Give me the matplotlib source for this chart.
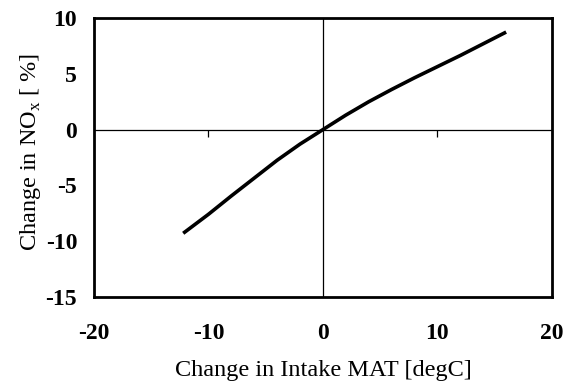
import matplotlib
matplotlib.use("Agg")
import matplotlib.pyplot as plt
from matplotlib.lines import TICKDOWN

plt.rcParams['font.family'] = ['Liberation Serif', 'DejaVu Serif']
plt.rcParams['mathtext.fontset'] = 'custom'
plt.rcParams['mathtext.rm'] = 'Liberation Serif'

# data
mat_change = [-12.2, -10, -8, -6, -4, -2, 0, 2, 4, 6, 8, 10, 12, 14, 16]
nox_change = [-9.3, -7.6, -5.95, -4.35, -2.75, -1.3, 0, 1.3, 2.5, 3.6, 4.65, 5.65, 6.65, 7.7, 8.75]
x_ticks = [-20, -10, 0, 10, 20]
y_ticks = [-15, -10, -5, 0, 5, 10]
minor_x_marks = [-10, 10]

fig = plt.figure(figsize=(5.69, 3.86), dpi=100)
ax = fig.add_axes([0.165, 0.231, 0.805, 0.722])

ax.axhline(0, color='black', lw=0.9, zorder=1)
ax.axvline(0, color='black', lw=0.9, zorder=1)
ax.plot(minor_x_marks, [0] * len(minor_x_marks), ls='none', marker=TICKDOWN,
        markersize=5, color='black', mew=0.9, zorder=1)
ax.plot(mat_change, nox_change, color='black', lw=2.6, solid_capstyle='butt',
        solid_joinstyle='round', zorder=3)

ax.set_xlim(-20, 20)
ax.set_ylim(-15, 10)
ax.set_xticks(x_ticks)
ax.set_yticks(y_ticks)
ax.set_xticklabels([str(v) for v in x_ticks], fontsize=17, fontweight='bold')
ax.set_yticklabels([str(v) for v in y_ticks], fontsize=17, fontweight='bold')
ax.tick_params(axis='x', length=0, pad=19)
ax.tick_params(axis='y', length=0, pad=12)

for s in ax.spines.values():
    s.set_linewidth(2.0)
    s.set_color('black')

ax.set_xlabel('Change in Intake MAT [degC]', fontsize=17.5)
ax.set_ylabel('Change in NO$_\\mathrm{x}$ [ %]', fontsize=17.5)
ax.xaxis.set_label_coords(0.5, -0.228)
ax.yaxis.set_label_coords(-0.112, 0.52)

fig.savefig('out.png', dpi=100)
